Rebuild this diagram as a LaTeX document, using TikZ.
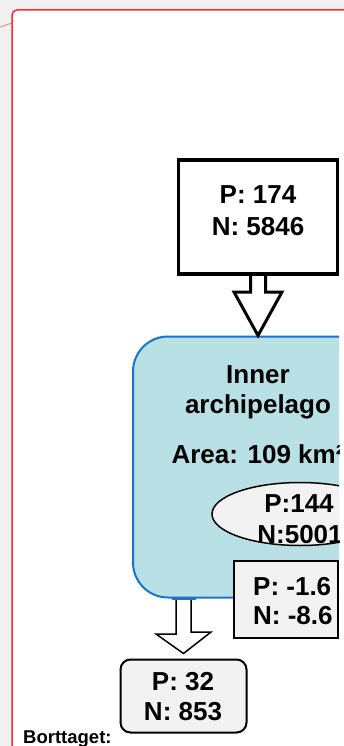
\documentclass[tikz,border=0pt]{standalone}
\usepackage{fontspec}
\setmainfont{Liberation Sans}
\usetikzlibrary{calc,shapes.geometric}
\definecolor{pagegray}{HTML}{F0F0F0}
\definecolor{framered}{HTML}{FF2A2A}
\definecolor{linkpink}{HTML}{FF8A8A}
\definecolor{poolfill}{HTML}{B9E0E4}
\definecolor{pooledge}{HTML}{1874CD}
\definecolor{boxfill}{HTML}{F2F2F2}
\begin{document}
\begin{tikzpicture}[x=1pt,y=-1pt,
  lbl/.style={font=\bfseries\fontsize{26}{31}\selectfont, inner sep=0pt, anchor=base},
  inbox/.style={draw, line width=3.5pt, fill=white, inner sep=0pt},
  pool/.style={draw=pooledge, fill=poolfill, line width=2pt, rounded corners=35pt, inner sep=0pt},
  stockshape/.style={ellipse, draw, line width=1.5pt, fill=boxfill, inner sep=0pt},
  lossbox/.style={draw, line width=2pt, fill=boxfill, inner sep=0pt},
  outbox/.style={draw, line width=2pt, fill=boxfill, rounded corners=10pt, inner sep=0pt},
  bigarrow/.style={draw, line width=3pt, fill=white, line join=miter},
  smallarrow/.style={draw, line width=1.5pt, fill=white, line join=miter},
  notetext/.style={font=\bfseries\fontsize{18.5}{21}\selectfont, inner sep=0pt, anchor=base west}]
\useasboundingbox (0,0) rectangle (344,746);
% page background and balloon frame
\fill[pagegray] (0,0) rectangle (344,746);
\fill[white, rounded corners=5pt] (12,750) -- (12,10) -- (350,10) -- (350,750) -- cycle;
\draw[linkpink, line width=1pt] (0,27) -- (12,23);
\draw[framered, line width=1.5pt, rounded corners=5pt] (12,750) -- (12,10) -- (350,10);

\begin{scope}
\clip (13,11) rectangle (339,746);
% nodes (shapes)
\node[pool, minimum width=250pt, minimum height=261pt] (lake) at (258,467) {};
\node[stockshape, minimum width=176pt, minimum height=63pt] (stock) at (300,514) {};
\node[lossbox, minimum width=104pt, minimum height=77pt] (loss) at (286,599) {};
\node[outbox, minimum width=126pt, minimum height=73pt] (out) at (183.5,696) {};
\coordinate (bstart) at (lake.south -| out.north);
% top block arrow
\draw[bigarrow] (250.5,272) -- (250.5,292) -- (234,292) -- (lake.north) -- (282,292) -- (265.5,292) -- (265.5,272);
\node[inbox, minimum width=159pt, minimum height=114pt] (inflow) at (258,217) {};
% bottom block arrow
\draw[smallarrow] ([xshift=-7.5pt]bstart) -- ++(0,35.5) -- ++(-20,0) -- ([yshift=5pt]out.north) -- ++(27.5,-21.5) -- ++(-20,0) -- ([xshift=7.5pt]bstart);
\draw[pooledge, line width=2pt] ([xshift=-12pt]bstart) -- ([xshift=12pt]bstart);

% texts
\node[lbl] (in1) at (258,203) {P: 174};
\node[lbl] (in2) at (258,235) {N: 5846};
\node[lbl] (name1) at (258,383) {Inner};
\node[lbl] (name2) at (258,413) {archipelago};
\node[lbl] (area) at (258,463) {Area: 109 km²};
\node[lbl] (st1) at (299,512) {P:144};
\node[lbl] (st2) at (300,543) {N:5001};
\node[lbl, anchor=base west] (ls1) at (253,595) {P: -1.6};
\node[lbl, anchor=base west] (ls2) at (253,624) {N: -8.6};
\node[lbl] (ou1) at (183,690) {P: 32};
\node[lbl] (ou2) at (183,720) {N: 853};
\end{scope}

\node[notetext] (note) at (23,743) {Borttaget:};
\end{tikzpicture}
\end{document}
